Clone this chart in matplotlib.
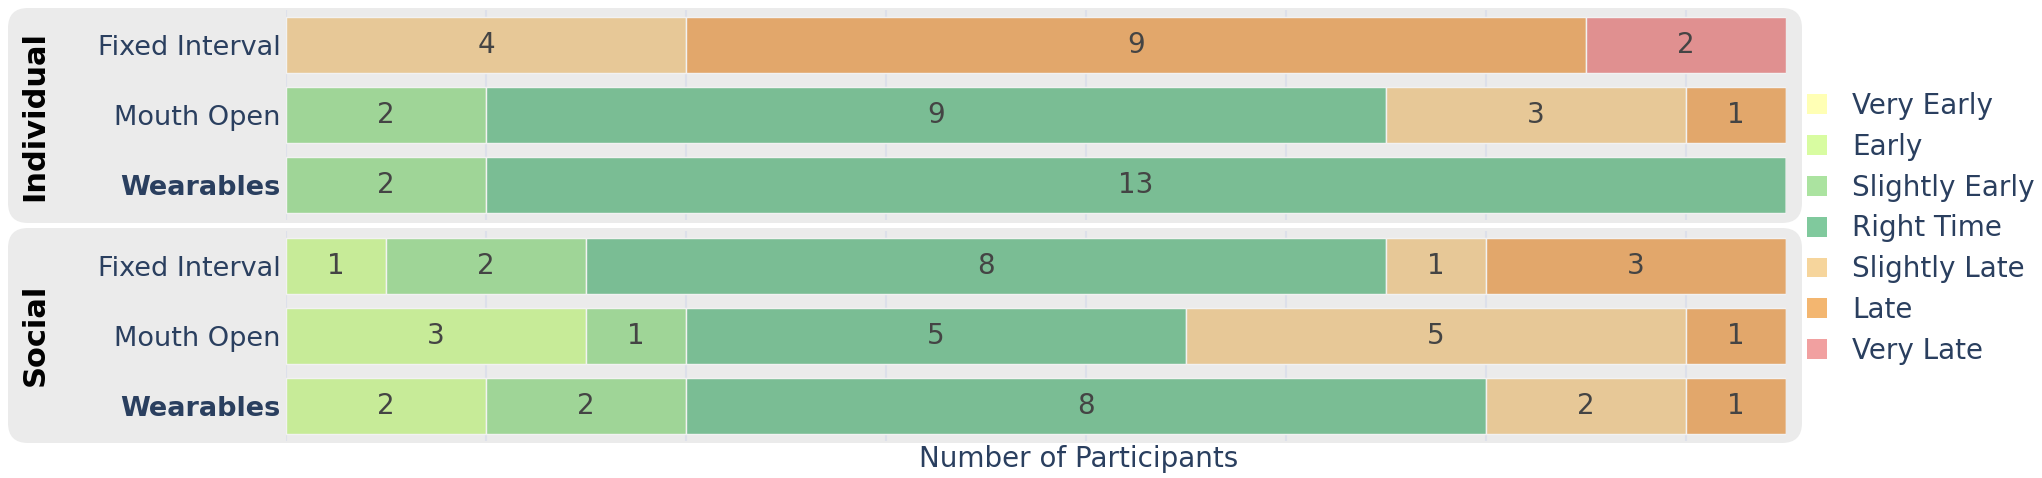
import numpy as np
import matplotlib
matplotlib.use("Agg")
import matplotlib.pyplot as plt
from matplotlib.patches import FancyBboxPatch, Patch

plt.rcParams['font.family'] = ['DejaVu Sans']

# ---------------- data ----------------
levels = ["Very Early", "Early", "Slightly Early", "Right Time",
          "Slightly Late", "Late", "Very Late"]
categories = ["Fixed Interval", "Mouth Open", "Wearables"]
groups = ["Individual", "Social"]

# counts per level (order of `levels`)
ind_fixed_interval = [0, 0, 0, 0, 4, 9, 2]
ind_mouth_open = [0, 0, 2, 9, 3, 1, 0]
ind_wearables = [0, 0, 2, 13, 0, 0, 0]
soc_fixed_interval = [0, 1, 2, 8, 1, 3, 0]
soc_mouth_open = [0, 3, 1, 5, 5, 1, 0]
soc_wearables = [0, 2, 2, 8, 2, 1, 0]

bar_colors = ["#fbfbb0", "#c7eb98", "#9fd597", "#7abd94",
              "#e7c897", "#e2a76b", "#e09090"]
legend_colors = ["#ffffb5", "#d8fca1", "#abe3a0", "#80c99d",
                 "#f6d59c", "#f3b670", "#f1a0a0"]

group_data = {
    "Individual": np.array([ind_fixed_interval, ind_mouth_open, ind_wearables]),
    "Social": np.array([soc_fixed_interval, soc_mouth_open, soc_wearables]),
}

# ---------------- figure ----------------
W, H = 2042, 478
DPI = 100
fig = plt.figure(figsize=(W / DPI, H / DPI), dpi=DPI)

TXT = "#2a3f5f"
PANEL = "#ebebeb"
GRID = "#dde0ea"


def px_axes(x0, y0, x1, y1):
    """pixel box (top-left origin) -> figure fraction rect"""
    return [x0 / W, 1 - y1 / H, (x1 - x0) / W, (y1 - y0) / H]


# rounded panel backgrounds (in inches, so corners are circular)
panels = {"Individual": (8, 8, 1802, 223), "Social": (8, 228, 1802, 443)}
for g, (x0, y0, x1, y1) in panels.items():
    p = FancyBboxPatch((x0 / DPI, (H - y1) / DPI), (x1 - x0) / DPI, (y1 - y0) / DPI,
                       boxstyle="round,pad=0,rounding_size=0.2",
                       transform=fig.dpi_scale_trans, facecolor=PANEL,
                       edgecolor="none", zorder=-5)
    fig.add_artist(p)

axes_boxes = {"Individual": (286, 10, 1786, 220), "Social": (286, 231, 1786, 441)}
label_y = {"Individual": 116, "Social": 335}

for g in groups:
    ax = fig.add_axes(px_axes(*axes_boxes[g]))
    ax.set_zorder(5)
    ax.set_facecolor("none")
    data = group_data[g]
    y = np.arange(len(categories))
    left = np.zeros(len(categories))
    for j, lev in enumerate(levels):
        vals = data[:, j]
        bars = ax.barh(y, vals, left=left, height=0.786, color=bar_colors[j],
                       edgecolor="#f2f2f2", linewidth=1.0, zorder=2)
        labels = [str(v) if v > 0 else "" for v in vals]
        ax.bar_label(bars, labels=labels, label_type="center",
                     fontsize=20, color="#444444")
        left = left + vals
    ax.set_xlim(0, 15)
    ax.set_ylim(len(categories) - 0.5, -0.5)
    ax.set_xticks(np.arange(0, 15, 2))
    ax.xaxis.grid(True, color=GRID, linewidth=1.5, zorder=0)
    ax.set_axisbelow(True)
    ax.tick_params(axis="x", length=0, labelbottom=False)
    ax.tick_params(axis="y", length=0, pad=4)
    ax.set_yticks(y)
    ax.set_yticklabels(categories, fontsize=19.5, color=TXT)
    for t in ax.get_yticklabels():
        if t.get_text() == "Wearables":
            t.set_fontweight("bold")
    for s in ax.spines.values():
        s.set_visible(False)
    fig.text(35 / W, 1 - label_y[g] / H, g, rotation=90, fontsize=22,
             fontweight="bold", color="black", ha="center", va="center")

fig.text(1079 / W, 1 - 459 / H, "Number of Participants", fontsize=20,
         color=TXT, ha="center", va="center")

handles = [Patch(facecolor=c, edgecolor="none") for c in legend_colors]
fig.legend(handles, levels, loc="upper left",
           bbox_to_anchor=(1807 / W, 1 - 92 / H), frameon=False,
           fontsize=20, labelcolor=TXT, handlelength=0.72, handleheight=0.72,
           handletextpad=0.9, labelspacing=0.46, borderaxespad=0, borderpad=0)

fig.savefig("out.png", dpi=DPI, facecolor="white")
